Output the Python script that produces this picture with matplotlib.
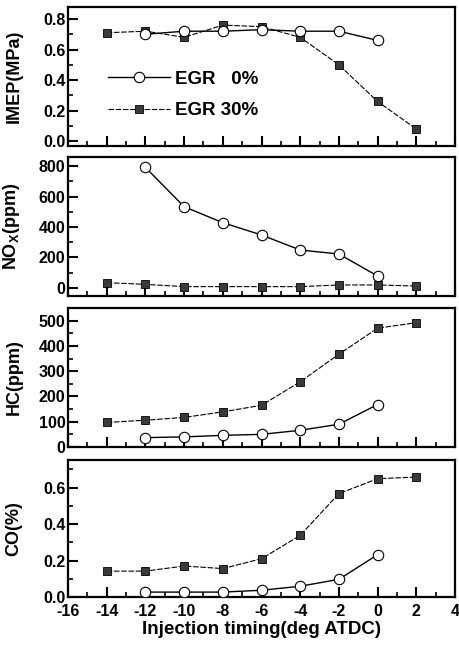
import matplotlib.pyplot as plt
from matplotlib.ticker import MultipleLocator

# font settings
plt.rcParams['font.family'] = ['Liberation Sans', 'DejaVu Sans']
plt.rcParams['font.weight'] = 'bold'
plt.rcParams['axes.unicode_minus'] = False
plt.rcParams['mathtext.fontset'] = 'custom'
plt.rcParams['mathtext.bf'] = 'Liberation Sans:bold'
plt.rcParams['mathtext.rm'] = 'Liberation Sans:bold'

# data
x0 = [-12, -10, -8, -6, -4, -2, 0]
x30 = [-14, -12, -10, -8, -6, -4, -2, 0, 2]

imep0 = [0.70, 0.72, 0.72, 0.73, 0.72, 0.72, 0.66]
imep30 = [0.71, 0.72, 0.68, 0.76, 0.75, 0.68, 0.50, 0.26, 0.08]

nox0 = [792, 533, 428, 347, 248, 222, 77]
nox30 = [33, 22, 7, 7, 7, 7, 18, 18, 11]

hc0 = [37, 40, 46, 50, 66, 90, 168]
hc30 = [97, 106, 117, 139, 165, 258, 367, 470, 492]

co0 = [0.027, 0.027, 0.027, 0.037, 0.059, 0.097, 0.232]
co30 = [0.142, 0.142, 0.17, 0.156, 0.21, 0.338, 0.567, 0.649, 0.658]

labels = ['EGR   0%', 'EGR 30%']
ylabels = ['IMEP(MPa)', r'NO$_\mathbf{X}$(ppm)', 'HC(ppm)', 'CO(%)']
ylims = [(-0.03, 0.88), (-55, 860), (0, 550), (0, 0.75)]
ymajor = [0.2, 200, 100, 0.2]
yminor = [0.1, 100, 50, 0.1]
ytickfmt = ['{:.1f}', '{:.0f}', '{:.0f}', '{:.1f}']
series0 = [imep0, nox0, hc0, co0]
series30 = [imep30, nox30, hc30, co30]

fig = plt.figure(figsize=(4.6, 6.45), dpi=100)

# panel positions [left, bottom, width, height]
boxes = [[0.148, 0.774, 0.841, 0.2155],
         [0.148, 0.541, 0.841, 0.2155],
         [0.148, 0.307, 0.841, 0.2155],
         [0.148, 0.0744, 0.841, 0.212]]

for i in range(4):
    ax = fig.add_axes(boxes[i])
    ax.plot(x30, series30[i], color='black', linestyle=(0, (5, 1.5)), linewidth=0.8,
            marker='s', markersize=5.5, markerfacecolor='#3a3a3a',
            markeredgecolor='black', markeredgewidth=0.6, label=labels[1], zorder=3)
    ax.plot(x0, series0[i], color='black', linestyle='-', linewidth=1.0,
            marker='o', markersize=7.5, markerfacecolor='white',
            markeredgecolor='black', markeredgewidth=0.8, label=labels[0], zorder=4)

    ax.set_xlim(-16, 4)
    ax.set_ylim(*ylims[i])
    ax.xaxis.set_major_locator(MultipleLocator(2))
    ax.xaxis.set_minor_locator(MultipleLocator(1))
    ax.yaxis.set_major_locator(MultipleLocator(ymajor[i]))
    ax.yaxis.set_minor_locator(MultipleLocator(yminor[i]))

    # tick style: inward ticks on bottom and left only
    ax.tick_params(which='major', direction='in', length=7, width=1.5,
                   top=False, right=False, labelsize=11.5)
    ax.tick_params(which='minor', direction='in', length=3.5, width=1.2,
                   top=False, right=False)
    ax.yaxis.set_major_formatter(plt.FuncFormatter(lambda v, p, f=ytickfmt[i]: f.format(v)))
    ax.tick_params(axis='y', pad=2)
    ax.tick_params(axis='x', pad=5)

    for s in ax.spines.values():
        s.set_linewidth(1.6)

    ax.set_ylabel(ylabels[i], fontsize=13, fontweight='bold')
    ax.yaxis.set_label_coords(-0.118, 0.5)

    if i < 3:
        ax.tick_params(axis='x', labelbottom=False)
    else:
        ax.set_xlabel('Injection timing(deg ATDC)', fontsize=13.5, fontweight='bold', labelpad=1.5)

    if i == 0:
        h, l = ax.get_legend_handles_labels()
        ax.legend(h[::-1], l[::-1], loc='upper left', bbox_to_anchor=(0.06, 0.66),
                  frameon=False, handlelength=3.3, handletextpad=0.25,
                  labelspacing=0.75, prop={'weight': 'bold', 'size': 13.5})

fig.savefig('out.png', dpi=100)
